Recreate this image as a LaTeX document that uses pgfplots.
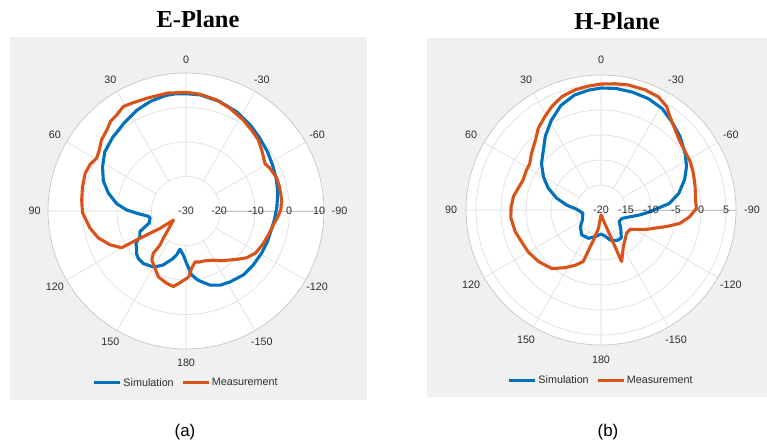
\documentclass[border=0pt]{standalone}
\usepackage{pgfplots}
\pgfplotsset{compat=1.18}
\usepackage{pgfplotstable}
\usepgfplotslibrary{polar}
\usepackage{fontspec}
\setmainfont{Liberation Sans}
\newfontfamily\titlefont{Liberation Serif}

\definecolor{mblue}{RGB}{0,114,189}
\definecolor{morange}{RGB}{217,83,25}
\definecolor{panel}{RGB}{240,240,240}
\definecolor{gridc}{RGB}{220,220,220}
\definecolor{tickc}{RGB}{45,45,45}

% E-plane, simulation (theta in deg, gain in dB)
\pgfplotstableread{
t db
-179.3 -14.8
-175 -11.4
-170 -9.6
-162 -7.4
-155 -6.3
-148 -5.8
-138 -5.1
-129 -5.0
-119 -4.9
-111 -4.8
-103 -4.7
-95 -4.2
-87 -3.6
-78 -2.8
-70 -2.2
-62 -1.6
-54 -0.8
-45 0.1
-37 1.1
-27 2.3
-17 3.2
-7 3.9
0 4.0
5 4.1
10 4.0
18 3.4
26 2.5
35 1.2
45 0.1
54 -0.9
62 -2.6
70 -4.5
77 -6.9
84 -9.8
89 -12.8
93 -16.0
98 -19.0
101 -19.4
108 -18.8
114 -15.4
119 -14.7
123 -12.7
127 -12.1
131 -11.0
135 -10.5
141 -10.4
148 -11.1
151 -11.5
157 -13.0
164 -15.5
168 -17.0
171 -18.8
176.5 -17.2
180.7 -14.8
}\esim

% E-plane, measurement
\pgfplotstableread{
t db
-178 -10.6
-174.4 -13.3
-170 -15.0
-165 -14.7
-160 -14.6
-151 -13.7
-145 -12.4
-138 -10.9
-132 -9.2
-127.6 -7.8
-121 -6.4
-113 -5.7
-105 -5.0
-98 -4.2
-93 -3.2
-89 -2.5
-83.4 -2.1
-76 -2.0
-70 -2.0
-63 -2.7
-59 -3.3
-55 -2.6
-51 -1.8
-45.5 -0.6
-39 0.2
-32 1.2
-23 2.4
-15.4 3.4
-6.8 4.1
0 4.4
9 4.6
19 4.6
27 5.0
31 5.3
36 4.3
40 4.0
44 2.9
50 2.0
55 0.7
59.5 0.1
64 0.9
69.5 1.2
77 0.8
84 0.4
91 0.0
94 -0.7
100 -1.7
107 -3.4
114 -5.9
119.7 -8.5
120.2 -12.3
121.4 -16.6
123.7 -20.9
126 -25.5
140.3 -19.7
142.6 -17.6
142.3 -14.5
145 -12.7
151.6 -11.1
157.2 -9.3
165 -8.3
170.5 -7.8
174.7 -9.0
180.6 -10.5
182 -10.6
}\emeas

% H-plane, simulation
\pgfplotstableread{
t db
-171 -14.7
-163 -13.7
-152 -13.1
-144 -13.1
-133 -14.6
-122.5 -15.7
-112 -15.5
-103 -14.0
-97 -12.1
-92 -10.2
-88 -8.5
-84.6 -6.3
-78 -4.1
-70 -2.2
-63 -0.8
-56 0.3
-47 1.6
-39 2.6
-31 3.7
-23 4.2
-15 4.4
-7 4.5
0 4.4
6 4.1
13 3.6
21 2.4
29 0.5
37 -1.5
44 -3.4
52 -4.9
60 -6.7
67.6 -8.6
75 -10.8
82 -13.1
88 -15.1
100 -16.3
118 -15.8
129 -14.7
142 -13.7
156 -13.8
170.5 -14.7
180 -15.2
189 -14.7
}\hsim

% H-plane, measurement
\pgfplotstableread{
t db
0 5.2
6 4.9
12 4.6
19 4.0
25.5 2.9
31 1.8
37.5 0.6
43 -0.8
51 -2.1
57 -3.0
62 -3.1
69 -3.3
75 -2.9
81 -2.3
88 -2.0
95 -1.9
104 -2.3
112 -2.9
120 -3.2
129.5 -3.8
140 -4.7
148 -6.4
155 -7.8
161 -9.1
163 -11.8
166 -13.8
172 -16.3
180 -19.0
201.8 -8.9
211.3 -11.4
228 -13.1
236.3 -13.0
247 -10.1
256 -6.4
260.4 -4.0
265.7 -2.2
271 -0.9
276 -1.0
284 -0.6
292 -0.1
298.5 0.3
305 0.5
311 0.9
317 1.8
323.5 3.2
327.6 4.5
333.2 5.4
340 5.6
347.7 5.6
353.7 5.4
360 5.2
}\hmeas

\tikzset{
  tl/.style={font=\fontsize{10.8}{12}\selectfont, text=tickc, anchor=center, inner sep=0pt},
}
\pgfplotsset{
  mpolar/.style={
    anchor=center, scale only axis, clip=false,
    xmin=0, xmax=360,
    xtick={0,30,...,330},
    xticklabel={\relax}, yticklabel={\relax},
    xmajorgrids, ymajorgrids,
    major grid style={draw=gridc, line width=0.6bp},
    axis line style={draw=gridc!90!black, line width=0.7bp},
    tick style={draw=none},
    legend columns=2,
    legend cell align=left,
    legend image code/.code={\draw[##1, line width=3.1bp] (0bp,0bp) -- (26bp,0bp);},
    legend style={draw=none, fill=none, inner sep=0pt, anchor=center,
      font=\fontsize{10.8}{12}\selectfont, text=tickc,
      /tikz/every even column/.append style={column sep=6bp},
      nodes={inner sep=1.5bp}},
  },
  curve/.style={line width=3.1bp, no markers, line join=round},
}

\begin{document}
\begin{tikzpicture}
\path[use as bounding box] (0,0) rectangle (767bp,447bp);
\fill[white] (0,0) rectangle (767bp,447bp);
\fill[panel] (10bp,47bp) rectangle (367bp,410bp);
\fill[panel] (427bp,50bp) rectangle (767bp,409bp);
\fill[white] (186bp,236bp) circle (138bp);
\fill[white] (601bp,237bp) circle (135bp);

\node[font=\titlefont\bfseries\fontsize{24.5}{28}\selectfont] at (198bp,428bp) {E-Plane};
\node[font=\titlefont\bfseries\fontsize{24.5}{28}\selectfont] at (617bp,426bp) {H-Plane};
\node[font=\fontsize{17}{20}\selectfont] at (185bp,15bp) {(a)};
\node[font=\fontsize{17}{20}\selectfont] at (608bp,15bp) {(b)};

% ---------------- E-plane ----------------
\begin{polaraxis}[mpolar,
  at={(186bp,236bp)}, width=276bp, height=276bp,
  ymin=0, ymax=40, ytick={10,20,30},
  legend style={at={(0.5,-0.123)}},
]
\fill[white] (axis cs:0,0) circle[radius=33.8bp];
\addplot[mblue, curve]
  table[x expr=\thisrow{t}+90, y expr=\thisrow{db}+30] {\esim};
\addlegendentry{Simulation}
\addplot[morange, curve]
  table[x expr=\thisrow{t}+90, y expr=\thisrow{db}+30] {\emeas};
\addlegendentry{Measurement}
\node[tl] at (axis cs:90,43.9) {0};
\node[tl] at (axis cs:120,43.9) {30};
\node[tl] at (axis cs:150,43.9) {60};
\node[tl] at (axis cs:180,43.9) {90};
\node[tl] at (axis cs:210,43.9) {120};
\node[tl] at (axis cs:240,43.9) {150};
\node[tl] at (axis cs:270,43.9) {180};
\node[tl] at (axis cs:300,43.9) {-150};
\node[tl] at (axis cs:330,43.9) {-120};
\node[tl] at (axis cs:0,44.5) {-90};
\node[tl] at (axis cs:30,43.9) {-60};
\node[tl] at (axis cs:60,43.9) {-30};
\node[tl] at (axis cs:0,0) {-30};
\node[tl] at (axis cs:0,9.6) {-20};
\node[tl] at (axis cs:0,20.3) {-10};
\node[tl] at (axis cs:0,29.9) {0};
\node[tl] at (axis cs:0,38.6) {10};
\end{polaraxis}

% ---------------- H-plane ----------------
\begin{polaraxis}[mpolar,
  at={(601bp,237bp)}, width=270bp, height=270bp,
  ymin=0, ymax=27, ytick={5,10,15,20,25},
  legend style={at={(0.5,-0.13)}},
]
\fill[white] (axis cs:0,0) circle[radius=24.3bp];
\addplot[mblue, curve]
  table[x expr=\thisrow{t}+90, y expr=\thisrow{db}+20] {\hsim};
\addlegendentry{Simulation}
\addplot[morange, curve]
  table[x expr=\thisrow{t}+90, y expr=\thisrow{db}+20] {\hmeas};
\addlegendentry{Measurement}
\node[tl] at (axis cs:90,30) {0};
\node[tl] at (axis cs:120,30) {30};
\node[tl] at (axis cs:150,30) {60};
\node[tl] at (axis cs:180,30) {90};
\node[tl] at (axis cs:210,30) {120};
\node[tl] at (axis cs:240,30) {150};
\node[tl] at (axis cs:270,30) {180};
\node[tl] at (axis cs:300,30) {-150};
\node[tl] at (axis cs:330,30) {-120};
\node[tl] at (axis cs:0,30.2) {-90};
\node[tl] at (axis cs:30,30) {-60};
\node[tl] at (axis cs:60,30) {-30};
\node[tl] at (axis cs:0,0) {-20};
\node[tl] at (axis cs:0,5) {-15};
\node[tl] at (axis cs:0,10) {-10};
\node[tl] at (axis cs:0,15) {-5};
\node[tl] at (axis cs:0,20) {0};
\node[tl] at (axis cs:0,25) {5};
\end{polaraxis}
\end{tikzpicture}
\end{document}
